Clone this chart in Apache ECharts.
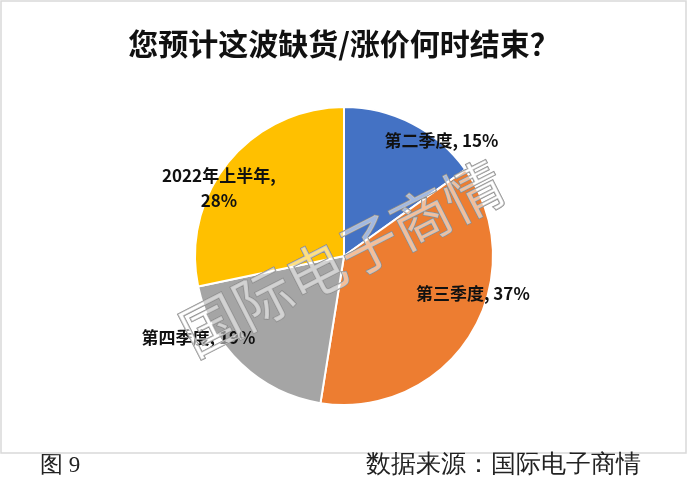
<!DOCTYPE html>
<html>
<head>
    <meta charset="utf-8">
    <title>缺货涨价何时结束</title>
    <style>
        html, body { margin: 0; padding: 0; background: #fff; }
    </style>
</head>
<body>
    <div id="main" style="width: 688px;height:489px;"></div>
    <script src="https://cdn.jsdelivr.net/npm/echarts@6/dist/echarts.min.js"></script>
    <script type="text/javascript">
        var myChart = echarts.init(document.getElementById('main'));

        // 数据
        var data_name = ['第二季度', '第三季度', '第四季度', '2022年上半年'];
        var data_pct = [15, 37, 19, 28];
        var slice_color = ['#4472C4', '#ED7D31', '#A5A5A5', '#FFC000'];

        // 标签相对默认 inside 位置的偏移
        var label_shift = [[62, -47], [63, -3], [-92, 25], [-65, -19]];

        var pieData = data_name.map(function (name, i) {
            return {
                name: name,
                value: data_pct[i],
                itemStyle: { color: slice_color[i] },
                label: {
                    offset: label_shift[i],
                    formatter: i === 3 ? '{b},\n{c}%' : '{b}, {c}%'
                }
            };
        });

        var option = {
            backgroundColor: '#fff',
            title: {
                text: '您预计这波缺货/涨价何时结束？',
                left: 'center',
                top: 24,
                textStyle: {
                    fontFamily: 'Noto Sans CJK SC',
                    fontWeight: 'bold',
                    fontSize: 30,
                    color: '#111'
                }
            },
            graphic: [
                // 外框
                {
                    type: 'rect',
                    shape: { x: 1, y: 1, width: 685, height: 452 },
                    style: { fill: 'none', stroke: '#d9d9d9', lineWidth: 1.5 },
                    z: 0
                },
                // 水印
                {
                    type: 'text',
                    x: 342,
                    y: 258,
                    rotation: 27 * Math.PI / 180,
                    z: 100,
                    style: {
                        text: '国际电子商情',
                        fontFamily: 'Noto Sans CJK SC',
                        fontSize: 59,
                        fill: 'rgba(255,255,255,0.5)',
                        stroke: '#8c8c8c',
                        lineWidth: 1.4,
                        textAlign: 'center',
                        textVerticalAlign: 'middle'
                    }
                },
                // 图号与来源
                {
                    type: 'text',
                    left: 40,
                    top: 454,
                    style: {
                        text: '图 9',
                        fontFamily: 'serif',
                        fontSize: 23,
                        fill: '#222'
                    }
                },
                {
                    type: 'text',
                    left: 366,
                    top: 453,
                    style: {
                        text: '数据来源：国际电子商情',
                        fontFamily: 'serif',
                        fontSize: 25,
                        fill: '#222'
                    }
                }
            ],
            series: [{
                type: 'pie',
                center: [344, 256],
                radius: 149,
                startAngle: 90,
                clockwise: true,
                silent: true,
                itemStyle: { borderColor: '#fff', borderWidth: 2 },
                label: {
                    show: true,
                    position: 'inside',
                    fontFamily: 'Noto Sans CJK SC',
                    fontWeight: 'bold',
                    fontSize: 17,
                    lineHeight: 25,
                    color: '#111',
                    align: 'center'
                },
                labelLine: { show: false },
                data: pieData
            }]
        };

        myChart.setOption(option);
    </script>
</body>
</html>
